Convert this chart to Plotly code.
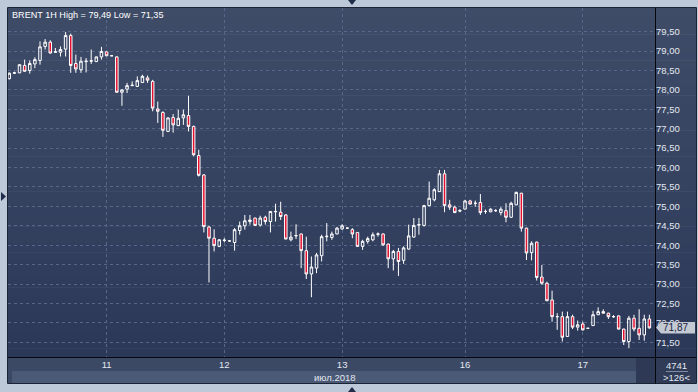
import plotly.graph_objects as go

# ---------------- data ----------------
opens = [78.29, 78.43, 78.44, 78.63, 78.50, 78.67, 78.76, 79.12, 79.23, 78.97,
         78.97, 79.05, 79.40, 78.68, 78.52, 78.73, 78.74, 78.73, 78.85, 78.98,
         78.88, 78.85, 77.94, 78.02, 78.11, 78.09, 78.19, 78.31, 78.22, 77.51,
         77.42, 76.93, 77.29, 77.08, 77.28, 77.34, 77.06, 76.31, 75.81, 74.47,
         74.18, 73.97, 74.12, 74.11, 74.07, 74.38, 74.50, 74.61, 74.70, 74.52,
         74.72, 74.61, 74.86, 74.85, 74.78, 74.14, 74.24, 74.29, 73.86, 73.26,
         73.41, 73.73, 74.22, 74.20, 74.29, 74.42, 74.44, 74.40, 74.33, 73.97,
         74.10, 74.14, 74.28, 74.29, 74.03, 73.65, 73.84, 73.61, 73.90, 74.21,
         74.52, 74.51, 75.02, 75.17, 75.38, 75.84, 75.04, 74.98, 74.88, 74.93,
         75.14, 75.08, 75.10, 74.87, 74.86, 74.89, 74.84, 74.89, 74.72, 75.04,
         75.34, 74.44, 73.81, 74.08, 73.18, 73.02, 72.59, 72.16, 72.16, 71.65,
         72.16, 71.89, 71.97, 71.86, 71.93, 72.21, 72.29, 72.25, 72.16, 72.18,
         71.84, 71.52, 72.12, 71.86, 71.69, 72.10]
highs = [78.45, 78.47, 78.66, 78.78, 78.76, 78.84, 79.25, 79.31, 79.28, 79.08,
         79.12, 79.49, 79.45, 78.91, 78.85, 78.82, 79.04, 78.86, 79.11, 78.99,
         78.89, 78.87, 78.02, 78.18, 78.22, 78.35, 78.39, 78.37, 78.26, 77.70,
         77.45, 77.29, 77.38, 77.49, 77.49, 77.85, 77.08, 76.46, 75.83, 74.50,
         74.41, 74.16, 74.18, 74.12, 74.44, 74.61, 74.78, 74.78, 74.71, 74.76,
         74.76, 74.88, 75.07, 75.12, 74.80, 74.35, 74.54, 74.30, 74.22, 73.71,
         73.80, 74.27, 74.57, 74.35, 74.47, 74.54, 74.45, 74.44, 74.34, 74.14,
         74.22, 74.33, 74.33, 74.30, 74.04, 73.88, 73.93, 73.97, 74.53, 74.70,
         74.70, 75.04, 75.64, 75.47, 75.94, 75.94, 75.17, 75.02, 74.93, 75.17,
         75.17, 75.15, 75.32, 74.92, 74.95, 74.93, 74.98, 75.08, 75.12, 75.38,
         75.35, 74.45, 74.10, 74.09, 73.49, 73.06, 72.83, 72.25, 72.29, 72.29,
         72.21, 72.06, 72.03, 71.87, 72.31, 72.40, 72.35, 72.26, 72.20, 72.19,
         71.85, 72.18, 72.21, 72.35, 72.21, 72.21]
lows = [78.27, 78.41, 78.43, 78.47, 78.42, 78.56, 78.65, 79.04, 78.94, 78.96,
        78.86, 78.86, 78.44, 78.44, 78.44, 78.45, 78.67, 78.72, 78.78, 78.87,
        78.87, 77.93, 77.59, 77.92, 78.10, 78.08, 78.18, 78.18, 77.45, 77.15,
        76.79, 76.92, 76.90, 77.07, 77.10, 76.93, 76.29, 75.77, 74.33, 73.04,
        73.84, 73.95, 74.08, 74.10, 73.86, 74.27, 74.40, 74.53, 74.50, 74.48,
        74.53, 74.33, 74.61, 74.65, 74.15, 74.10, 74.16, 73.41, 73.13, 72.66,
        73.28, 73.58, 74.10, 74.14, 74.28, 74.40, 74.43, 74.18, 73.96, 73.88,
        74.04, 74.10, 74.22, 73.98, 73.41, 73.35, 73.21, 73.52, 73.89, 74.20,
        74.27, 74.48, 75.00, 75.13, 75.37, 74.85, 74.91, 74.83, 74.85, 74.92,
        75.05, 74.99, 74.78, 74.81, 74.85, 74.86, 74.77, 74.59, 74.70, 75.03,
        74.35, 73.62, 73.61, 73.09, 72.98, 72.56, 72.03, 71.82, 71.52, 71.64,
        71.84, 71.80, 71.80, 71.85, 71.92, 72.20, 72.24, 72.10, 72.13, 71.83,
        71.43, 71.35, 71.78, 71.56, 71.54, 71.85]
closes = [78.43, 78.44, 78.65, 78.48, 78.68, 78.78, 79.11, 79.23, 78.95, 78.98,
          79.04, 79.40, 78.63, 78.54, 78.74, 78.74, 78.75, 78.85, 78.99, 78.88,
          78.88, 77.94, 78.00, 78.11, 78.12, 78.24, 78.35, 78.25, 77.53, 77.45,
          76.96, 77.28, 77.10, 77.27, 77.36, 77.06, 76.33, 75.80, 74.48, 74.18,
          73.99, 74.14, 74.13, 74.11, 74.40, 74.50, 74.63, 74.65, 74.51, 74.70,
          74.61, 74.87, 74.87, 74.74, 74.16, 74.21, 74.25, 73.86, 73.26, 73.44,
          73.75, 74.22, 74.23, 74.29, 74.44, 74.50, 74.44, 74.29, 73.97, 74.10,
          74.17, 74.27, 74.29, 74.01, 73.65, 73.84, 73.58, 73.93, 74.24, 74.51,
          74.53, 75.02, 75.21, 75.43, 75.84, 75.02, 74.98, 74.84, 74.89, 75.14,
          75.06, 75.08, 74.84, 74.87, 74.93, 74.89, 74.93, 74.72, 75.08, 75.36,
          74.44, 73.80, 74.05, 73.17, 73.02, 72.57, 72.16, 72.16, 71.63, 72.16,
          71.89, 71.95, 71.82, 71.86, 72.21, 72.29, 72.25, 72.16, 72.16, 71.84,
          71.52, 72.12, 71.84, 71.69, 72.10, 71.87]

bar_index = list(range(len(opens)))
day_tick_index = [19, 42, 65, 89, 112]
day_tick_labels = ["11", "12", "13", "16", "17"]
price_ticks = [71.5, 72.0, 72.5, 73.0, 73.5, 74.0, 74.5, 75.0, 75.5,
               76.0, 76.5, 77.0, 77.5, 78.0, 78.5, 79.0, 79.5]
title_text = "BRENT 1H High = 79,49 Low = 71,35"
month_label = "июл.2018"
last_price_label = "71,87"
last_price = 71.87
volume_label = "4741"
bars_label = ">126<"

# ---------------- layout helpers (pixel -> paper) ----------------
W, H = 698, 392
L, R, T, B = 8, 655, 8, 357
PW, PH = R - L, B - T


def pxx(x):
    return (x - L) / PW


def pxy(y):
    return (B - y) / PH


def rect(x0, y0, x1, y1, fill, layer="below"):
    return dict(type="rect", xref="paper", yref="paper",
                x0=pxx(x0), x1=pxx(x1), y0=pxy(y1), y1=pxy(y0),
                fillcolor=fill, layer=layer, line=dict(width=0))


def seg(x0, y0, x1, y1, color, width=1, layer="above"):
    return dict(type="line", xref="paper", yref="paper",
                x0=pxx(x0), x1=pxx(x1), y0=pxy(y0), y1=pxy(y1),
                line=dict(color=color, width=width), layer=layer)


def poly(points, fill, layer="above"):
    p = "M " + " L ".join(f"{pxx(x)},{pxy(y)}" for x, y in points) + " Z"
    return dict(type="path", xref="paper", yref="paper", path=p,
                fillcolor=fill, line=dict(width=0), layer=layer)


shapes = []
# panel gradient
top_c = (63, 76, 104)
bot_c = (43, 56, 88)
n = 40
y_start, y_end = 8, 357
for k in range(n):
    t = (k + 0.5) / n
    c = tuple(round(top_c[j] + (bot_c[j] - top_c[j]) * t) for j in range(3))
    ya = y_start + (y_end - y_start) * k / n
    yb = y_start + (y_end - y_start) * (k + 1) / n + 0.5
    shapes.append(rect(8, ya, 696.5, yb, "rgb(%d,%d,%d)" % c))
# bottom strips
shapes.append(rect(8, 357, 655, 383.5, "#3c4965"))
shapes.append(rect(12, 371, 636, 383, "#4a5976"))
shapes.append(rect(636, 358, 655, 383, "#2d3955"))
shapes.append(rect(655, 357, 696.5, 383.5, "#2f3b57"))
# frame
shapes.append(dict(type="rect", xref="paper", yref="paper",
                   x0=pxx(7.5), x1=pxx(696.5), y0=pxy(383.5), y1=pxy(7.5),
                   line=dict(color="#1b2435", width=1), fillcolor="rgba(0,0,0,0)",
                   layer="above"))
shapes.append(seg(655.5, 8, 655.5, 383.5, "#05070c", 1))
shapes.append(seg(8, 357.5, 696.5, 357.5, "#05070c", 1))
shapes.append(seg(666, 371.5, 688, 371.5, "#7f8ca4", 1))
# price label
shapes.append(poly([(656, 327.5), (661, 322), (695, 322), (695, 333.5), (661, 333.5)], "#c3c9d2"))
# ui triangles
shapes.append(poly([(348, 0), (356, 0), (352, 5)], "#1f2c4a"))
shapes.append(poly([(348, 392), (356, 392), (352, 387)], "#1f2c4a"))
shapes.append(poly([(1, 192), (1, 201), (6, 196.5)], "#1f2c4a"))

font_main = "Liberation Sans, Arial, sans-serif"
annotations = [
    dict(text=title_text, xref="paper", yref="paper", x=pxx(10), y=pxy(15),
         xanchor="left", yanchor="middle", showarrow=False,
         font=dict(family=font_main, size=9.1, color="#ffffff")),
    dict(text=month_label, xref="paper", yref="paper", x=pxx(335), y=pxy(377),
         xanchor="center", yanchor="middle", showarrow=False,
         font=dict(family=font_main, size=9.5, color="#e3e8f0")),
    dict(text=volume_label, xref="paper", yref="paper", x=pxx(676), y=pxy(365),
         xanchor="center", yanchor="middle", showarrow=False,
         font=dict(family=font_main, size=9.5, color="#e3e8f0")),
    dict(text=bars_label, xref="paper", yref="paper", x=pxx(676), y=pxy(377.5),
         xanchor="center", yanchor="middle", showarrow=False,
         font=dict(family=font_main, size=9.5, color="#e3e8f0")),
    dict(text=last_price_label, xref="paper", yref="y", x=pxx(661), y=last_price,
         xanchor="left", yanchor="middle", showarrow=False,
         font=dict(family=font_main, size=10, color="#17233d")),
]

fig = go.Figure(go.Candlestick(
    x=bar_index, open=opens, high=highs, low=lows, close=closes,
    increasing=dict(line=dict(color="#ffffff", width=1), fillcolor="rgba(0,0,0,0)"),
    decreasing=dict(line=dict(color="#ffffff", width=1), fillcolor="#e3102f"),
    whiskerwidth=0, hoverinfo="skip",
))

grid_kw = dict(showgrid=True, gridcolor="#56678a", griddash="3px,3px", gridwidth=1,
               zeroline=False, showline=False, ticks="", ticklen=0)

fig.update_layout(
    width=W, height=H,
    margin=dict(l=L, r=W - R, t=T, b=H - B, pad=0),
    paper_bgcolor="#bdc9d9", plot_bgcolor="rgba(0,0,0,0)",
    showlegend=False, separators=", ",
    boxgap=0.3,
    shapes=shapes, annotations=annotations,
    xaxis=dict(range=[-0.25, 126.1], tickmode="array", tickvals=day_tick_index,
               ticktext=day_tick_labels, rangeslider=dict(visible=False),
               tickfont=dict(family=font_main, size=9.5, color="#e3e8f0"),
               **grid_kw),
    yaxis=dict(range=[71.121, 80.110], side="right", tickmode="array",
               tickvals=price_ticks, tickformat=".2f",
               tickfont=dict(family=font_main, size=9.5, color="#e3e8f0"),
               **grid_kw),
)

fig.write_html("out.html")
